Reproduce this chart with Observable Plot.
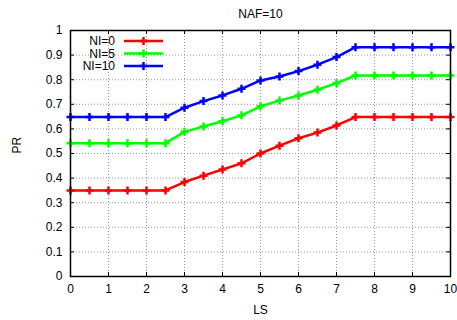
<!DOCTYPE html>
<html><head><meta charset="utf-8">
<script src="https://cdn.jsdelivr.net/npm/d3@7"></script>
<script src="https://cdn.jsdelivr.net/npm/@observablehq/plot@0.6"></script>
<style>
body{margin:0;background:#fff;font-family:"Liberation Sans",Arial,sans-serif;}
#chart svg{overflow:visible}
</style>
</head><body><div id="chart"></div>
<script>
const title = "NAF=10";
const xLabel = "LS";
const yLabel = "PR";
const ls = [0,0.5,1,1.5,2,2.5,3,3.5,4,4.5,5,5.5,6,6.5,7,7.5,8,8.5,9,9.5,10];
const ni0  = [0.35,0.35,0.35,0.35,0.35,0.35,0.384,0.41,0.435,0.46,0.50,0.532,0.562,0.585,0.614,0.648,0.648,0.648,0.648,0.648,0.648];
const ni5  = [0.542,0.542,0.542,0.542,0.542,0.542,0.588,0.61,0.631,0.655,0.692,0.715,0.736,0.759,0.786,0.817,0.817,0.817,0.817,0.817,0.817];
const ni10 = [0.648,0.648,0.648,0.648,0.648,0.648,0.686,0.713,0.736,0.763,0.797,0.813,0.835,0.861,0.892,0.932,0.932,0.932,0.932,0.932,0.932];
const seriesNames = ["NI=0","NI=5","NI=10"];
const seriesColors = ["#ff0000","#00ff00","#0000ff"];
const xTicks = [0,1,2,3,4,5,6,7,8,9,10];
const yTicks = [0,0.1,0.2,0.3,0.4,0.5,0.6,0.7,0.8,0.9,1];

const seriesValues = [ni0, ni5, ni10];
const data = [];
seriesNames.forEach((name, i) => ls.forEach((x, j) => data.push({series: name, x, y: seriesValues[i][j]})));

const plusSymbol = {draw(ctx, size){ const r = 4; ctx.moveTo(-r,0); ctx.lineTo(r,0); ctx.moveTo(0,-r); ctx.lineTo(0,r); }};

const W = 457, H = 320, mL = 70, mR = 7, mT = 30, mB = 44;
const fw = W - mL - mR, fh = H - mT - mB;

const chart = Plot.plot({
  width: W, height: H,
  marginLeft: mL, marginRight: mR, marginTop: mT, marginBottom: mB,
  style: {fontFamily: '"Liberation Sans", Arial, sans-serif', fontSize: "12px", color: "#000", background: "#fff"},
  x: {domain: [0,10]},
  y: {domain: [0,1]},
  color: {domain: seriesNames, range: seriesColors},
  marks: [
    Plot.gridX(xTicks, {stroke: "#999", strokeOpacity: 1, strokeDasharray: "1,2"}),
    Plot.gridY(yTicks, {stroke: "#999", strokeOpacity: 1, strokeDasharray: "1,2"}),
    Plot.tickX(xTicks, {x: d => d, insetTop: fh - 4, stroke: "#000"}),
    Plot.tickX(xTicks, {x: d => d, insetBottom: fh - 4, stroke: "#000"}),
    Plot.tickY(yTicks, {y: d => d, insetRight: fw - 4, stroke: "#000"}),
    Plot.tickY(yTicks, {y: d => d, insetLeft: fw - 4, stroke: "#000"}),
    Plot.axisX(xTicks, {tickSize: 0, tickPadding: 8, label: null, fontSize: 12}),
    Plot.axisY(yTicks, {tickSize: 0, tickPadding: 8, label: null, fontSize: 12, tickFormat: d => String(d)}),
    Plot.line(data, {x: "x", y: "y", z: "series", stroke: "series", strokeWidth: 2.5}),
    Plot.dot(data, {x: "x", y: "y", stroke: "series", symbol: plusSymbol, fill: "none", strokeWidth: 2.5}),
    Plot.frame({stroke: "#000", strokeWidth: 1.5}),
    Plot.text([title], {frameAnchor: "top", dy: -21, fontSize: 12}),
    Plot.text([xLabel], {frameAnchor: "bottom", dy: 37, fontSize: 12}),
    Plot.text([yLabel], {frameAnchor: "left", dx: -53, rotate: -90, fontSize: 12})
  ]
});
document.getElementById("chart").appendChild(chart);

// legend inside the frame, top-left (gnuplot style)
const svg = d3.select(chart);
const lg = svg.append("g").attr("font-size", 12).attr("font-family", '"Liberation Sans", Arial, sans-serif');
seriesNames.forEach((name, i) => {
  const cy = mT + 11 + i * 12.5;
  lg.append("text").attr("x", mL + 45).attr("y", cy).attr("dy", "0.35em").attr("text-anchor", "end").attr("fill", "#000").text(name);
  lg.append("line").attr("x1", mL + 54).attr("x2", mL + 93).attr("y1", cy).attr("y2", cy).attr("stroke", seriesColors[i]).attr("stroke-width", 2.5);
  lg.append("path").attr("d", `M${mL+69.5},${cy}h8M${mL+73.5},${cy-4}v8`).attr("stroke", seriesColors[i]).attr("stroke-width", 2.5).attr("fill", "none");
});
</script>
</body></html>
